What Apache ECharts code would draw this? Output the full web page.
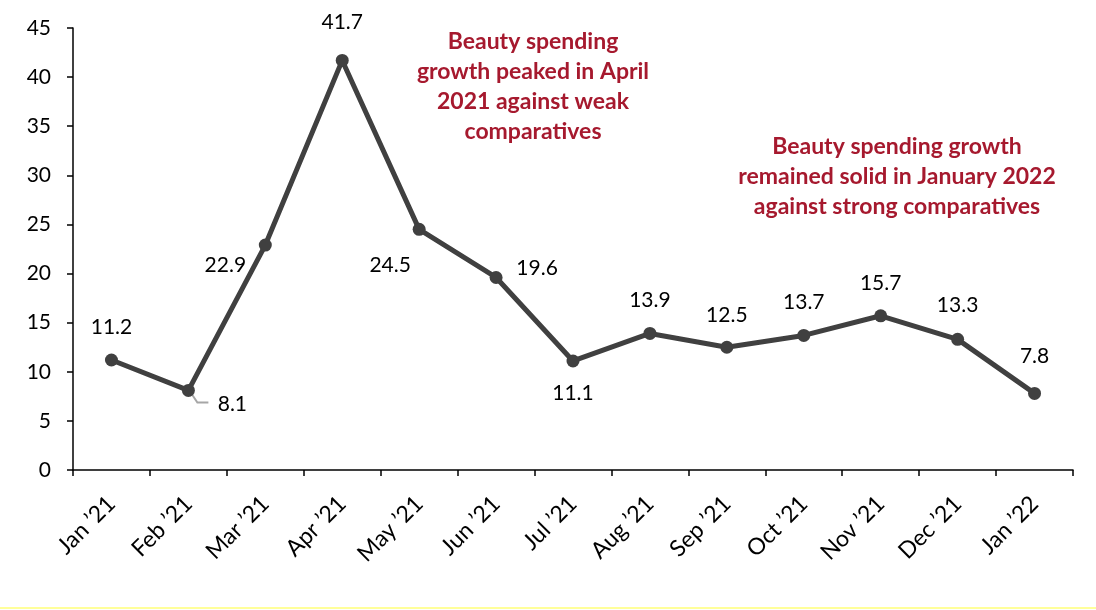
<!DOCTYPE html>
<html><head><meta charset="utf-8">
<script src="https://cdn.jsdelivr.net/npm/echarts@6/dist/echarts.min.js"></script>
<style>html,body{margin:0;padding:0;background:#fff}#c{width:1096px;height:610px}</style>
</head><body><div id="c"></div>
<script>
const categories = ["Jan \u201921","Feb \u201921","Mar \u201921","Apr \u201921","May \u201921","Jun \u201921","Jul \u201921","Aug \u201921","Sep \u201921","Oct \u201921","Nov \u201921","Dec \u201921","Jan \u201922"];
const values = [11.2, 8.1, 22.9, 41.7, 24.5, 19.6, 11.1, 13.9, 12.5, 13.7, 15.7, 13.3, 7.8];
const yTicks = [0, 5, 10, 15, 20, 25, 30, 35, 40, 45];
const note1 = "Beauty spending\ngrowth peaked in April\n2021 against weak\ncomparatives";
const note2 = "Beauty spending growth\nremained solid in January 2022\nagainst strong comparatives";

const labelOffsets = [[0,-33],[44,14],[-40,20],[0,-38],[-29,36],[41,-9],[0,32],[0,-33],[0,-32],[0,-33],[0,-33],[0,-34],[0,-37]];
const FONT = "Lato, 'Noto Sans', sans-serif";
const chart = echarts.init(document.getElementById('c'));
chart.setOption({
  animation:false,
  grid:{left:73,right:23,top:28,bottom:140},
  xAxis:{type:'category',data:categories,boundaryGap:true,
    axisLine:{lineStyle:{color:'#000',width:1.5}},
    axisTick:{show:true,length:6,alignWithLabel:false,lineStyle:{color:'#000',width:1.5}},
    axisLabel:{rotate:45,color:'#000',fontSize:23,fontFamily:FONT,margin:30,interval:0,hideOverlap:false}},
  yAxis:{type:'value',min:yTicks[0],max:yTicks[yTicks.length-1],interval:5,
    axisLine:{show:true,lineStyle:{color:'#000',width:1.5}},
    axisTick:{show:true,length:6,lineStyle:{color:'#000',width:1.5}},
    splitLine:{show:false},
    axisLabel:{color:'#000',fontSize:21,fontFamily:FONT,margin:22}},
  series:[{type:'line',data:values.map((v,i)=>({value:v,label:{offset:labelOffsets[i]}})),
    lineStyle:{color:'#404040',width:5},itemStyle:{color:'#404040'},
    symbol:'circle',symbolSize:13,
    label:{show:true,position:'inside',color:'#000',fontSize:21,fontFamily:FONT}}]
});
const p = chart.convertToPixel({seriesIndex:0},[1,values[1]]);
chart.setOption({graphic:[
  {type:'text',x:533,y:27,style:{text:note1,align:'center',fill:'#A6192E',font:"bold 23px "+FONT,lineHeight:30}},
  {type:'text',x:897,y:132,style:{text:note2,align:'center',fill:'#A6192E',font:"bold 23px "+FONT,lineHeight:30}},
  {type:'line',shape:{x1:0,y1:608,x2:1096,y2:608},style:{stroke:'#FFFF99',lineWidth:2}},
  {type:'polyline',shape:{points:[[p[0]+3,p[1]+3],[p[0]+9,p[1]+12],[p[0]+20,p[1]+12]]},style:{stroke:'#A6A6A6',lineWidth:2,fill:null},z:1}
]});
</script></body></html>
